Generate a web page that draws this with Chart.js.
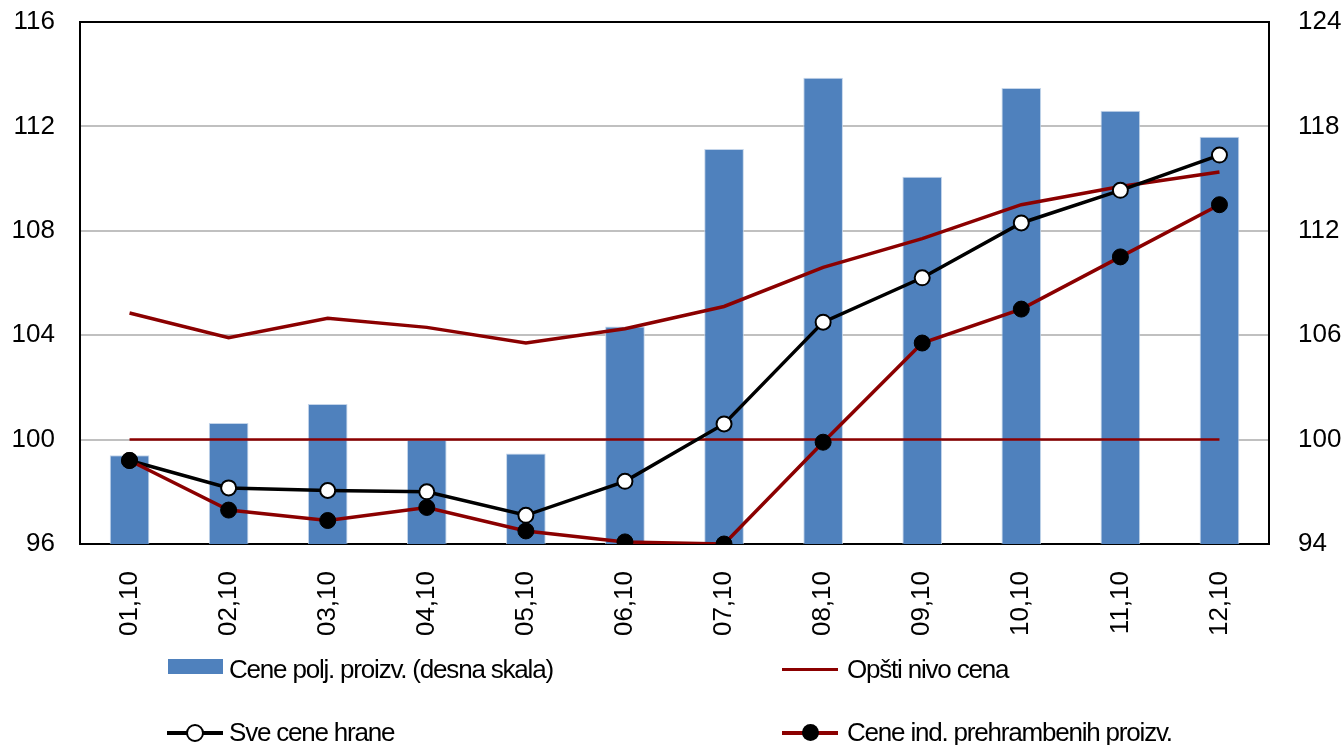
<!DOCTYPE html>
<html>
<head>
<meta charset="utf-8">
<script src="https://cdn.jsdelivr.net/npm/chart.js@4"></script>
<style>
  html, body { margin: 0; padding: 0; background: #fff; }
  #wrap { position: relative; width: 1344px; height: 745px; overflow: hidden; }
  canvas { position: absolute; left: 0; top: 0; }
  .lg { position: absolute; font-family: "Liberation Sans", Arial, sans-serif; font-size: 26px; color: #000; white-space: nowrap; letter-spacing: -1.2px; line-height: 30px; }
  .sw { position: absolute; }
</style>
</head>
<body>
<div id="wrap">
  <canvas id="c" width="1344" height="745"></canvas>
  <div class="sw" style="left:168px;top:659px;width:55px;height:15px;background:#4F81BD;"></div>
  <div class="lg" id="l1" style="left:229px;top:654px;"></div>
  <div class="sw" style="left:782px;top:668px;width:56px;height:3px;background:#8B0000;"></div>
  <div class="lg" id="l2" style="left:847px;top:654px;"></div>
  <div class="sw" style="left:167px;top:731px;width:56px;height:4px;background:#000;"></div>
  <div class="sw" style="left:186px;top:724px;width:14px;height:14px;border:2px solid #000;border-radius:50%;background:#fff;"></div>
  <div class="lg" id="l3" style="left:229px;top:717px;"></div>
  <div class="sw" style="left:782px;top:731px;width:56px;height:4px;background:#8B0000;"></div>
  <div class="sw" style="left:802px;top:724px;width:17px;height:17px;border-radius:50%;background:#000;"></div>
  <div class="lg" id="l4" style="left:847px;top:717px;"></div>
</div>
<script>
const categories = ["01,10","02,10","03,10","04,10","05,10","06,10","07,10","08,10","09,10","10,10","11,10","12,10"];
const ceneProizv = [99.1, 100.95, 102.05, 100.0, 99.2, 106.5, 116.7, 120.8, 115.1, 120.2, 118.9, 117.4];
const opstiNivo = [104.85, 103.9, 104.65, 104.3, 103.7, 104.25, 105.1, 106.6, 107.7, 109.0, 109.7, 110.25];
const sveCeneHrane = [99.2, 98.15, 98.05, 98.0, 97.1, 98.4, 100.6, 104.5, 106.2, 108.3, 109.55, 110.9];
const ceneInd = [99.2, 97.3, 96.9, 97.4, 96.5, 96.08, 96.0, 99.9, 103.7, 105.0, 107.0, 109.0];
const baseline = [100, 100, 100, 100, 100, 100, 100, 100, 100, 100, 100, 100];
const leftTicks = [96, 100, 104, 108, 112, 116];
const rightTicks = [94, 100, 106, 112, 118, 124];
const labels = ["Cene polj. proizv. (desna skala)", "Opšti nivo cena", "Sve cene hrane", "Cene ind. prehrambenih proizv."];

document.getElementById('l1').textContent = labels[0];
document.getElementById('l2').textContent = labels[1];
document.getElementById('l3').textContent = labels[2];
document.getElementById('l4').textContent = labels[3];

const DARK_RED = '#8B0000';
const FONT = { family: '"Liberation Sans", Arial, sans-serif', size: 26 };

const frame = {
  id: 'frame',
  beforeDatasetsDraw(chart) {
    const { ctx, chartArea: a } = chart;
    ctx.save();
    ctx.strokeStyle = '#000';
    ctx.lineWidth = 2;
    ctx.strokeRect(a.left, a.top, a.right - a.left, a.bottom - a.top);
    ctx.restore();
  }
};

new Chart(document.getElementById('c'), {
  data: {
    labels: categories,
    datasets: [
      { type: 'line', label: labels[3], data: ceneInd, yAxisID: 'y', order: 1,
        borderColor: DARK_RED, borderWidth: 3.5, tension: 0,
        pointRadius: 8, pointBackgroundColor: '#000', pointBorderColor: '#000', pointBorderWidth: 1 },
      { type: 'line', label: labels[2], data: sveCeneHrane, yAxisID: 'y', order: 2,
        borderColor: '#000', borderWidth: 3.5, tension: 0,
        pointRadius: 7.5, pointBackgroundColor: '#fff', pointBorderColor: '#000', pointBorderWidth: 2 },
      { type: 'line', label: labels[1], data: opstiNivo, yAxisID: 'y', order: 3,
        borderColor: DARK_RED, borderWidth: 3.5, tension: 0, pointRadius: 0 },
      { type: 'line', label: '100', data: baseline, yAxisID: 'y', order: 4,
        borderColor: DARK_RED, borderWidth: 2.5, tension: 0, pointRadius: 0 },
      { type: 'bar', label: labels[0], data: ceneProizv, yAxisID: 'y1', order: 10,
        backgroundColor: '#4F81BD', borderColor: 'rgba(190,208,232,0.9)', borderWidth: 1,
        barPercentage: 0.4, categoryPercentage: 1.0 }
    ]
  },
  options: {
    responsive: false,
    devicePixelRatio: 1,
    animation: false,
    layout: { padding: { top: 22, left: 0, right: 0, bottom: 0 } },
    plugins: { legend: { display: false }, tooltip: { enabled: false } },
    scales: {
      x: {
        offset: true,
        grid: { display: false, drawTicks: false },
        border: { display: false },
        ticks: { color: '#000', font: FONT, minRotation: 90, maxRotation: 90, padding: 27, autoSkip: false },
        afterFit(s) { s.height = 201; }
      },
      y: {
        position: 'left', min: 96, max: 116,
        afterBuildTicks(s) { s.ticks = leftTicks.map(v => ({ value: v })); },
        grid: { color: '#C0C0C0', lineWidth: 2, drawTicks: true, tickLength: 25, tickColor: 'rgba(0,0,0,0)' },
        border: { display: false },
        ticks: { color: '#000', font: FONT, padding: 0 },
        afterFit(s) { s.width = 80; }
      },
      y1: {
        position: 'right', min: 94, max: 124,
        afterBuildTicks(s) { s.ticks = rightTicks.map(v => ({ value: v })); },
        grid: { display: true, drawOnChartArea: false, drawTicks: true, tickLength: 29, tickColor: 'rgba(0,0,0,0)' },
        border: { display: false },
        ticks: { color: '#000', font: FONT, padding: 0 },
        afterFit(s) { s.width = 75; }
      }
    }
  },
  plugins: [frame]
});
</script>
</body>
</html>
